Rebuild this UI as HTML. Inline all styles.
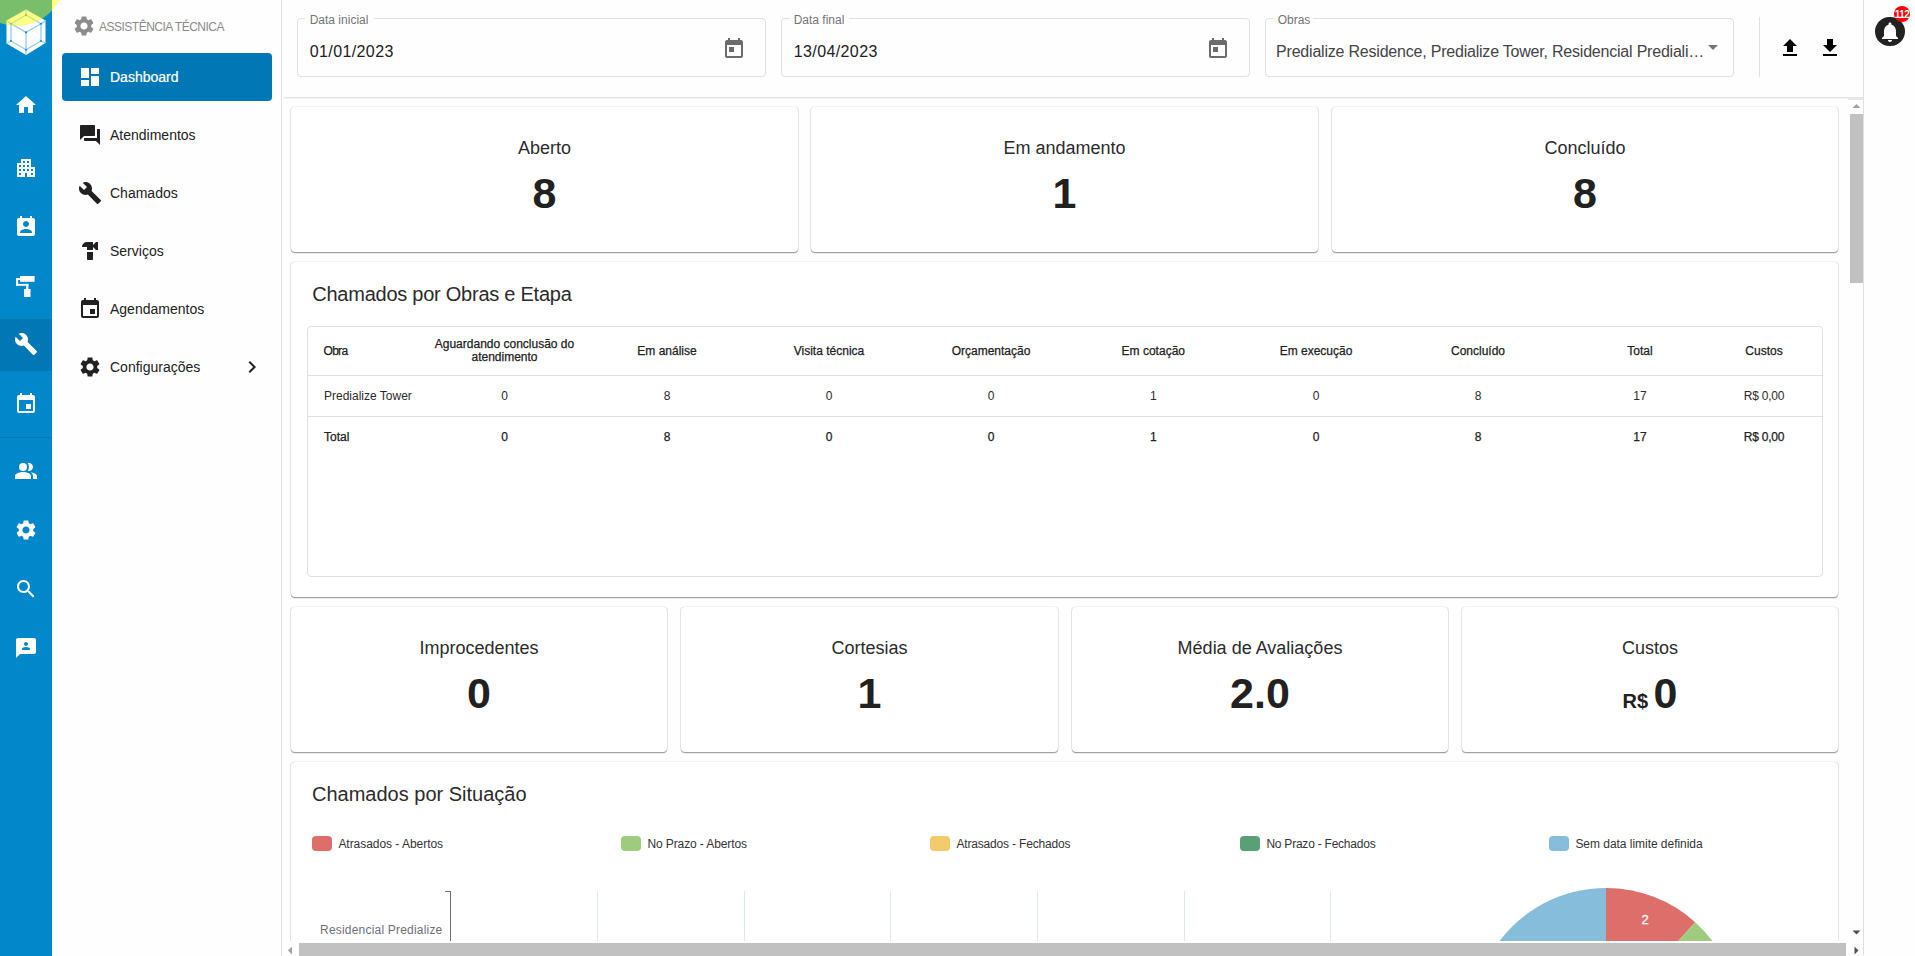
<!DOCTYPE html>
<html><head><meta charset="utf-8"><style>
*{box-sizing:border-box;margin:0;padding:0}
html,body{width:1915px;height:956px;overflow:hidden;background:#fefefe;font-family:"Liberation Sans",sans-serif;color:#212121}
.abs{position:absolute}
svg{display:block}
#rail{position:absolute;left:0;top:0;width:52px;height:956px;background:#0287ca}
#rail .ic{position:absolute;left:14px;width:24px;height:24px}
#rail .ic path,#rail .ic rect,#rail .ic circle{fill:#fff}
.fld{position:absolute;top:18px;height:59px;border:1px solid #e0e0e0;border-radius:4px}
.gap{position:absolute;top:17px;height:3px;background:#fefefe}
.card{position:absolute;background:#fff;border-radius:4px;box-shadow:0 1px 0 0 rgba(0,0,0,0.32),0 2px 0 0 rgba(0,0,0,0.07),1px 0 0 0 rgba(0,0,0,0.1),-1px 0 0 0 rgba(0,0,0,0.1),0 -1px 0 0 rgba(0,0,0,0.045)}
.ln{position:absolute;background:#e0e0e0}
</style></head><body>
<div id="rail">
  <svg class="abs" style="left:0;top:0" width="52" height="60" viewBox="0 0 52 60">
    <polygon points="26,9.5 45.5,20.5 45.5,43 26,55 6.5,43.5 6.5,20.5" fill="#fff"/>
    <g stroke="#93c9ee" stroke-width="1.3" fill="none">
      <polygon points="26,15 41,23.8 41,41 26,49.8 11,41 11,23.8"/>
      <polyline points="11,23.8 26,32.3 41,23.8"/>
      <line x1="26" y1="32.3" x2="26" y2="55"/>
      <line x1="26" y1="9.5" x2="26" y2="15"/>
      <line x1="6.5" y1="20.5" x2="11" y2="23.8"/>
      <line x1="45.5" y1="20.5" x2="41" y2="23.8"/>
      <line x1="6.5" y1="43.5" x2="11" y2="41"/>
      <line x1="45.5" y1="43" x2="41" y2="41"/>
    </g>
    <g fill="#1b84cf">
      <circle cx="26" cy="32.3" r="1.1"/><circle cx="11" cy="23.8" r="1"/><circle cx="41" cy="23.8" r="1"/>
      <circle cx="11" cy="41" r="1"/><circle cx="41" cy="41" r="1"/><circle cx="26" cy="49.8" r="1"/><circle cx="26" cy="15" r="1"/>
    </g>
  </svg>
  <svg class="ic" style="top:93px" viewBox="0 0 24 24"><path d="M10 20v-6h4v6h5v-8h3L12 3 2 12h3v8z"/></svg>
  <svg class="ic" style="top:156px" viewBox="0 0 24 24"><path d="M17 11V3H7v4H3v14h8v-4h2v4h8V11h-4zM7 19H5v-2h2v2zm0-4H5v-2h2v2zm0-4H5V9h2v2zm4 4H9v-2h2v2zm0-4H9V9h2v2zm0-4H9V5h2v2zm4 8h-2v-2h2v2zm0-4h-2V9h2v2zm0-4h-2V5h2v2zm4 12h-2v-2h2v2zm0-4h-2v-2h2v2z"/></svg>
  <svg class="ic" style="top:215px" viewBox="0 0 24 24"><path d="M19 3h-1V1h-2v2H8V1H6v2H5c-1.11 0-2 .9-2 2v14c0 1.1.89 2 2 2h14c1.1 0 2-.9 2-2V5c0-1.1-.9-2-2-2zm-7 3c1.66 0 3 1.34 3 3s-1.34 3-3 3-3-1.34-3-3 1.34-3 3-3zm6 12H6v-1c0-2 4-3.1 6-3.1s6 1.1 6 3.1v1z"/></svg>
  <svg class="abs" style="left:0;top:272px" width="52" height="28" viewBox="0 272 52 28"><g fill="#fff">
    <rect x="20" y="276" width="14.6" height="5.8"/><rect x="16" y="278" width="4" height="2"/><rect x="16" y="278" width="2.1" height="7.9"/>
    <rect x="16" y="283.9" width="12.4" height="1.9"/><rect x="26" y="283.9" width="2.4" height="5.5"/><rect x="24" y="289" width="6.5" height="8"/></g></svg>
  <div class="abs" style="left:0;top:319px;width:52px;height:52px;background:#0177b6"></div>
  <svg class="ic" style="top:332px" viewBox="0 0 24 24"><path d="M22.7 19l-9.1-9.1c.9-2.3.4-5-1.5-6.9-2-2-5-2.4-7.4-1.3L9 6 6 9 1.6 4.7C.4 7.1.9 10.1 2.9 12.1c1.9 1.9 4.6 2.4 6.9 1.5l9.1 9.1c.4.4 1 .4 1.4 0l2.3-2.3c.5-.4.5-1.1.1-1.4z"/></svg>
  <svg class="ic" style="top:392px" viewBox="0 0 24 24"><path d="M17 12h-5v5h5v-5zM16 1v2H8V1H6v2H5c-1.11 0-1.99.9-1.99 2L3 19c0 1.1.89 2 2 2h14c1.1 0 2-.9 2-2V5c0-1.1-.9-2-2-2h-1V1h-2zm3 18H5V8h14v11z"/></svg>
  <div class="abs" style="left:0;top:437px;width:52px;height:1px;background:#0876b0"></div>
  <svg class="ic" style="top:459px" viewBox="0 0 24 24"><path d="M16.67 13.13C18.04 14.06 19 15.32 19 17v3h4v-3c0-2.18-3.57-3.47-6.33-3.87z"/><circle cx="9" cy="8" r="4"/><path d="M15 12c2.21 0 4-1.79 4-4s-1.79-4-4-4c-.47 0-.91.1-1.33.24C14.5 5.27 15 6.58 15 8s-.5 2.73-1.33 3.76c.42.14.86.24 1.33.24z"/><path d="M9 13c-2.67 0-8 1.340-8 4v3h16v-3c0-2.66-5.330-4-8-4z"/></svg>
  <svg class="ic" style="top:518px" viewBox="0 0 24 24"><path d="M19.14 12.94c.04-.3.06-.61.06-.94 0-.32-.02-.64-.07-.94l2.03-1.58c.18-.14.23-.41.12-.61l-1.92-3.32c-.12-.22-.37-.29-.59-.22l-2.39.96c-.5-.38-1.03-.7-1.620-.94l-.36-2.54c-.04-.24-.24-.41-.48-.41h-3.84c-.24 0-.43.17-.47.41l-.36 2.54c-.59.24-1.13.57-1.62.94l-2.39-.96c-.22-.08-.47 0-.59.22L2.74 8.87c-.12.21-.08.47.12.61l2.03 1.58c-.05.3-.09.63-.09.94s.02.64.07.94l-2.03 1.58c-.18.14-.23.41-.12.61l1.92 3.32c.12.22.37.29.59.22l2.39-.96c.5.38 1.03.7 1.62.94l.36 2.54c.05.24.24.41.48.41h3.84c.24 0 .44-.17.47-.41l.36-2.54c.59-.24 1.13-.56 1.62-.94l2.39.96c.22.08.47 0 .59-.22l1.92-3.32c.12-.22.07-.47-.12-.61l-2.01-1.58zM12 15.6c-1.98 0-3.6-1.62-3.6-3.6s1.62-3.6 3.6-3.6 3.6 1.62 3.6 3.6-1.62 3.6-3.6 3.6z"/></svg>
  <svg class="ic" style="top:577px" viewBox="0 0 24 24"><path d="M15.5 14h-.79l-.28-.27C15.41 12.59 16 11.11 16 9.5 16 5.91 13.09 3 9.5 3S3 5.91 3 9.5 5.91 16 9.5 16c1.61 0 3.09-.59 4.23-1.57l.27.28v.79l5 4.99L20.49 19l-4.99-5zm-6 0C7.01 14 5 11.990 5 9.5S7.01 5 9.5 5 14 7.01 14 9.5 11.99 14 9.5 14z"/></svg>
  <svg class="ic" style="top:636px" viewBox="0 0 24 24"><path d="M20 2H4c-1.1 0-1.99.9-1.99 2L2 22l4-4h14c1.1 0 2-.9 2-2V4c0-1.1-.9-2-2-2zm-8 4c1.1 0 2 .9 2 2s-.9 2-2 2-2-.9-2-2 .9-2 2-2zm4 8H8v-.57c0-.81.48-1.53 1.22-1.85.85-.37 1.79-.58 2.78-.58.99 0 1.93.21 2.78.58.74.32 1.22 1.04 1.22 1.85V14z"/></svg>
</div>


<div class="abs" style="left:52px;top:0;width:230px;height:956px;background:#fefefe;border-right:1px solid #e2e2e2"></div>
<svg class="abs" style="left:72px;top:14px" width="24" height="24" viewBox="0 0 24 24"><path fill="#8c8c8c" d="M19.14 12.94c.04-.3.06-.61.06-.94 0-.32-.02-.64-.07-.94l2.03-1.58c.18-.14.23-.41.12-.61l-1.92-3.32c-.12-.22-.37-.29-.59-.22l-2.39.96c-.5-.38-1.03-.7-1.62-.94l-.36-2.54c-.04-.24-.24-.41-.48-.41h-3.84c-.24 0-.43.17-.47.41l-.36 2.54c-.59.24-1.13.57-1.62.94l-2.39-.96c-.22-.08-.47 0-.59.22L2.74 8.87c-.12.21-.08.47.12.61l2.03 1.58c-.05.3-.09.63-.09.94s.02.64.07.94l-2.03 1.58c-.18.14-.23.41-.12.61l1.92 3.32c.12.22.37.29.59.22l2.39-.96c.5.38 1.030.7 1.62.94l.36 2.54c.05.24.24.41.48.41h3.84c.24 0 .44-.17.47-.41l.36-2.54c.59-.24 1.13-.56 1.62-.94l2.39.96c.22.08.47 0 .59-.22l1.92-3.32c.12-.22.07-.47-.12-.61l-2.01-1.58zM12 15.6c-1.98 0-3.6-1.62-3.6-3.6s1.62-3.6 3.6-3.6 3.6 1.62 3.6 3.6-1.62 3.6-3.6 3.6z"/></svg>
<div style="position:absolute;top:19.64px;font-size:12px;line-height:15px;color:#8a8a8a;white-space:nowrap;left:99.00px;letter-spacing:-0.5px;">ASSISTÊNCIA TÉCNICA</div>
<div class="abs" style="left:62px;top:53px;width:210px;height:48px;background:#0177b6;border-radius:4px"></div>
<svg class="abs" style="left:78px;top:65px" width="24" height="24" viewBox="0 0 24 24"><path fill="#fff" d="M3 13h8V3H3v10zm0 8h8v-6H3v6zm10 0h8V11h-8v10zm0-18v6h8V3h-8z"/></svg>
<div style="position:absolute;top:67.85px;font-size:14px;line-height:18px;color:#fff;white-space:nowrap;left:110.00px;-webkit-text-stroke:0.2px #fff;">Dashboard</div>
<svg class="abs" style="left:78px;top:123px" width="24" height="24" viewBox="0 0 24 24"><path fill="#212121" d="M21 6h-2v9H6v2c0 .55.45 1 1 1h11l4 4V7c0-.55-.45-1-1-1zm-4 6V3c0-.55-.45-1-1-1H3c-.55 0-1 .45-1 1v14l4-4h10c.55 0 1-.45 1-1z"/></svg>
<div style="position:absolute;top:126.05px;font-size:14px;line-height:18px;color:#212121;white-space:nowrap;left:110.00px;">Atendimentos</div>
<svg class="abs" style="left:78px;top:181px" width="24" height="24" viewBox="0 0 24 24"><path fill="#212121" d="M22.7 19l-9.1-9.1c.9-2.3.4-5-1.5-6.9-2-2-5-2.4-7.4-1.3L9 6 6 9 1.6 4.7C.4 7.1.9 10.1 2.9 12.1c1.9 1.9 4.6 2.4 6.9 1.5l9.1 9.1c.4.4 1 .4 1.4 0l2.3-2.3c.5-.4.5-1.1.1-1.4z"/></svg>
<div style="position:absolute;top:184.05px;font-size:14px;line-height:18px;color:#212121;white-space:nowrap;left:110.00px;">Chamados</div>
<svg class="abs" style="left:78px;top:239px" width="24" height="24" viewBox="0 0 24 24"><path fill="#212121" d="M18 3l-3 3V3H9C6.24 3 4 5.24 4 8h5v3h6V8l3 3h2V3h-2zM9 13v7c0 .55.45 1 1 1h4c.55 0 1-.45 1-1v-7H9z"/></svg>
<div style="position:absolute;top:242.05px;font-size:14px;line-height:18px;color:#212121;white-space:nowrap;left:110.00px;">Serviços</div>
<svg class="abs" style="left:78px;top:297px" width="24" height="24" viewBox="0 0 24 24"><path fill="#212121" d="M17 12h-5v5h5v-5zM16 1v2H8V1H6v2H5c-1.11 0-1.99.9-1.99 2L3 19c0 1.1.89 2 2 2h14c1.1 0 2-.9 2-2V5c0-1.1-.9-2-2-2h-1V1h-2zm3 18H5V8h14v11z"/></svg>
<div style="position:absolute;top:300.05px;font-size:14px;line-height:18px;color:#212121;white-space:nowrap;left:110.00px;">Agendamentos</div>
<svg class="abs" style="left:78px;top:355px" width="24" height="24" viewBox="0 0 24 24"><path fill="#212121" d="M19.14 12.94c.04-.3.06-.61.06-.94 0-.32-.02-.64-.07-.94l2.03-1.58c.18-.14.23-.41.12-.61l-1.92-3.32c-.12-.22-.37-.29-.59-.22l-2.39.96c-.5-.38-1.03-.7-1.62-.94l-.36-2.54c-.04-.24-.24-.41-.48-.41h-3.84c-.24 0-.43.17-.47.41l-.36 2.54c-.59.24-1.13.57-1.62.94l-2.39-.96c-.22-.08-.47 0-.59.22L2.74 8.87c-.12.21-.08.47.12.61l2.03 1.58c-.05.3-.09.63-.09.94s.02.64.07.94l-2.03 1.58c-.18.14-.23.41-.12.61l1.92 3.32c.12.22.37.29.59.22l2.39-.96c.5.38 1.030.7 1.62.94l.36 2.54c.05.24.24.41.48.41h3.84c.24 0 .44-.17.47-.41l.36-2.54c.59-.24 1.13-.56 1.62-.94l2.39.96c.22.08.47 0 .59-.22l1.92-3.32c.12-.22.07-.47-.12-.61l-2.01-1.58zM12 15.6c-1.98 0-3.6-1.62-3.6-3.6s1.62-3.6 3.6-3.6 3.6 1.62 3.6 3.6-1.62 3.6-3.6 3.6z"/></svg>
<div style="position:absolute;top:358.05px;font-size:14px;line-height:18px;color:#212121;white-space:nowrap;left:110.00px;">Configurações</div>
<svg class="abs" style="left:240px;top:355px" width="24" height="24" viewBox="0 0 24 24"><path fill="#212121" d="M10 6L8.59 7.41 13.17 12l-4.58 4.59L10 18l6-6z"/></svg>
<div class="fld" style="left:297px;width:469px"></div><div class="gap" style="left:305px;width:69px"></div><div style="position:absolute;top:13.14px;font-size:12px;line-height:15px;color:#747474;white-space:nowrap;left:309.70px;">Data inicial</div><div style="position:absolute;top:42.36px;font-size:16px;line-height:20px;color:#212121;white-space:nowrap;left:309.70px;letter-spacing:0.4px;">01/01/2023</div>
<div class="fld" style="left:781px;width:469px"></div><div class="gap" style="left:789px;width:60px"></div><div style="position:absolute;top:13.14px;font-size:12px;line-height:15px;color:#747474;white-space:nowrap;left:793.70px;">Data final</div><div style="position:absolute;top:42.36px;font-size:16px;line-height:20px;color:#212121;white-space:nowrap;left:793.70px;letter-spacing:0.4px;">13/04/2023</div>
<div class="fld" style="left:1265px;width:469px"></div><div class="gap" style="left:1273px;width:40px"></div><div style="position:absolute;top:13.14px;font-size:12px;line-height:15px;color:#747474;white-space:nowrap;left:1277.70px;">Obras</div><div style="position:absolute;top:42.36px;font-size:16px;line-height:20px;color:#444;white-space:nowrap;left:1276.10px;letter-spacing:-0.21px;">Predialize Residence, Predialize Tower, Residencial Prediali…</div>
<svg class="abs" style="left:722px;top:36.8px" width="24" height="24" viewBox="0 0 24 24"><path fill="#6b6b6b" d="M19 3h-1V1h-2v2H8V1H6v2H5c-1.11 0-1.99.9-1.99 2L3 19c0 1.1.89 2 2 2h14c1.1 0 2-.9 2-2V5c0-1.1-.9-2-2-2zm0 16H5V8h14v11zM7 10h5v5H7z"/></svg>
<svg class="abs" style="left:1206px;top:36.8px" width="24" height="24" viewBox="0 0 24 24"><path fill="#6b6b6b" d="M19 3h-1V1h-2v2H8V1H6v2H5c-1.11 0-1.99.9-1.99 2L3 19c0 1.1.89 2 2 2h14c1.1 0 2-.9 2-2V5c0-1.1-.9-2-2-2zm0 16H5V8h14v11zM7 10h5v5H7z"/></svg>
<svg class="abs" style="left:1701px;top:35px" width="24" height="24" viewBox="0 0 24 24"><path fill="#757575" d="M7 10l5 5 5-5z"/></svg>
<div class="ln" style="left:1759px;top:17px;width:1px;height:60px;background:#e0e0e0"></div>
<svg class="abs" style="left:1778px;top:36.3px" width="24" height="24" viewBox="0 0 24 24"><path fill="#000" d="M9 16h6v-6h4l-7-7-7 7h4zm-4 2h14v2H5z"/></svg>
<svg class="abs" style="left:1818px;top:36.3px" width="24" height="24" viewBox="0 0 24 24"><path fill="#000" d="M19 9h-4V3H9v6H5l7 7 7-7zM5 18v2h14v-2H5z"/></svg>
<div class="ln" style="left:284px;top:97px;width:1579px;height:1px;background:#e1e3e4"></div><div class="ln" style="left:284px;top:98px;width:1566px;height:1px;background:#f1f3f4"></div>
<div class="ln" style="left:1863px;top:0;width:1px;height:956px;background:#e0e0e0"></div>
<div class="abs" style="left:1875.4px;top:17.2px;width:29.2px;height:29.2px;border-radius:50%;background:#222"></div>
<svg class="abs" style="left:1878px;top:19.6px" width="24" height="24" viewBox="0 0 24 24"><path fill="#fff" d="M12 22c1.1 0 2-.9 2-2h-4c0 1.1.89 2 2 2zm6-6v-5c0-3.07-1.64-5.64-4.5-6.32V4c0-.83-.67-1.5-1.5-1.5s-1.5.67-1.5 1.5v.68C7.63 5.36 6 7.92 6 11v5l-2 2v1h16v-1l-2-2z"/></svg>
<div class="abs" style="left:1894px;top:5.8px;width:16px;height:16px;border-radius:50%;background:#f00"></div>
<div style="position:absolute;top:8.54px;font-size:10px;line-height:12px;color:#fff;white-space:nowrap;font-weight:bold;left:1887.00px;width:30px;text-align:center;letter-spacing:-0.6px;">112</div>
<div class="abs" style="left:282px;top:98px;width:1568px;height:843px;overflow:hidden"><div class="abs" style="left:-282px;top:-98px;width:1915px;height:1200px"><div class="card" style="left:291px;top:107px;width:507px;height:145px"></div><div style="position:absolute;top:136.66px;font-size:18px;line-height:22px;color:#2b2b2b;white-space:nowrap;left:291.00px;width:507px;text-align:center;">Aberto</div><div style="position:absolute;top:165.80px;font-size:43px;line-height:54px;color:#212121;white-space:nowrap;font-weight:bold;left:291.00px;width:507px;text-align:center;">8</div><div class="card" style="left:811px;top:107px;width:507px;height:145px"></div><div style="position:absolute;top:136.66px;font-size:18px;line-height:22px;color:#2b2b2b;white-space:nowrap;left:811.00px;width:507px;text-align:center;">Em andamento</div><div style="position:absolute;top:165.80px;font-size:43px;line-height:54px;color:#212121;white-space:nowrap;font-weight:bold;left:811.00px;width:507px;text-align:center;">1</div><div class="card" style="left:1332px;top:107px;width:506px;height:145px"></div><div style="position:absolute;top:136.66px;font-size:18px;line-height:22px;color:#2b2b2b;white-space:nowrap;left:1332.00px;width:506px;text-align:center;">Concluído</div><div style="position:absolute;top:165.80px;font-size:43px;line-height:54px;color:#212121;white-space:nowrap;font-weight:bold;left:1332.00px;width:506px;text-align:center;">8</div><div class="card" style="left:291px;top:262px;width:1547px;height:335px"></div><div style="position:absolute;top:282.17px;font-size:20px;line-height:25px;color:#2b2b2b;white-space:nowrap;left:312.30px;letter-spacing:-0.25px;">Chamados por Obras e Etapa</div><div class="abs" style="left:307px;top:326px;width:1516px;height:251px;border:1px solid #e0e0e0;border-radius:4px"></div><div class="ln" style="left:308px;top:375px;width:1514px;height:1px"></div><div class="ln" style="left:308px;top:416px;width:1514px;height:1px"></div><div style="position:absolute;top:343.64px;font-size:12px;line-height:15px;color:#212121;white-space:nowrap;left:323.50px;font-weight:normal;-webkit-text-stroke:0.25px #212121;letter-spacing:-0.7px;">Obra</div><div style="position:absolute;top:336.74px;font-size:12px;line-height:15px;color:#212121;white-space:nowrap;left:404.50px;width:200px;text-align:center;font-weight:normal;-webkit-text-stroke:0.25px #212121;">Aguardando conclusão do</div><div style="position:absolute;top:350.44px;font-size:12px;line-height:15px;color:#212121;white-space:nowrap;left:404.50px;width:200px;text-align:center;font-weight:normal;-webkit-text-stroke:0.25px #212121;">atendimento</div><div style="position:absolute;top:343.64px;font-size:12px;line-height:15px;color:#212121;white-space:nowrap;left:587.00px;width:160px;text-align:center;font-weight:normal;-webkit-text-stroke:0.25px #212121;">Em análise</div><div style="position:absolute;top:343.64px;font-size:12px;line-height:15px;color:#212121;white-space:nowrap;left:749.00px;width:160px;text-align:center;font-weight:normal;-webkit-text-stroke:0.25px #212121;">Visita técnica</div><div style="position:absolute;top:343.64px;font-size:12px;line-height:15px;color:#212121;white-space:nowrap;left:911.00px;width:160px;text-align:center;font-weight:normal;-webkit-text-stroke:0.25px #212121;">Orçamentação</div><div style="position:absolute;top:343.64px;font-size:12px;line-height:15px;color:#212121;white-space:nowrap;left:1073.30px;width:160px;text-align:center;font-weight:normal;-webkit-text-stroke:0.25px #212121;">Em cotação</div><div style="position:absolute;top:343.64px;font-size:12px;line-height:15px;color:#212121;white-space:nowrap;left:1236.00px;width:160px;text-align:center;font-weight:normal;-webkit-text-stroke:0.25px #212121;">Em execução</div><div style="position:absolute;top:343.64px;font-size:12px;line-height:15px;color:#212121;white-space:nowrap;left:1398.00px;width:160px;text-align:center;font-weight:normal;-webkit-text-stroke:0.25px #212121;">Concluído</div><div style="position:absolute;top:343.64px;font-size:12px;line-height:15px;color:#212121;white-space:nowrap;left:1560.00px;width:160px;text-align:center;font-weight:normal;-webkit-text-stroke:0.25px #212121;">Total</div><div style="position:absolute;top:343.64px;font-size:12px;line-height:15px;color:#212121;white-space:nowrap;left:1684.00px;width:160px;text-align:center;font-weight:normal;-webkit-text-stroke:0.25px #212121;">Custos</div><div style="position:absolute;top:389.34px;font-size:12px;line-height:15px;color:#2b2b2b;white-space:nowrap;left:324.00px;">Predialize Tower</div><div style="position:absolute;top:430.04px;font-size:12px;line-height:15px;color:#212121;white-space:nowrap;left:324.00px;font-weight:normal;-webkit-text-stroke:0.25px #212121;">Total</div><div style="position:absolute;top:389.34px;font-size:12px;line-height:15px;color:#2b2b2b;white-space:nowrap;left:444.50px;width:120px;text-align:center;">0</div><div style="position:absolute;top:389.34px;font-size:12px;line-height:15px;color:#2b2b2b;white-space:nowrap;left:607.00px;width:120px;text-align:center;">8</div><div style="position:absolute;top:389.34px;font-size:12px;line-height:15px;color:#2b2b2b;white-space:nowrap;left:769.00px;width:120px;text-align:center;">0</div><div style="position:absolute;top:389.34px;font-size:12px;line-height:15px;color:#2b2b2b;white-space:nowrap;left:931.00px;width:120px;text-align:center;">0</div><div style="position:absolute;top:389.34px;font-size:12px;line-height:15px;color:#2b2b2b;white-space:nowrap;left:1093.30px;width:120px;text-align:center;">1</div><div style="position:absolute;top:389.34px;font-size:12px;line-height:15px;color:#2b2b2b;white-space:nowrap;left:1256.00px;width:120px;text-align:center;">0</div><div style="position:absolute;top:389.34px;font-size:12px;line-height:15px;color:#2b2b2b;white-space:nowrap;left:1418.00px;width:120px;text-align:center;">8</div><div style="position:absolute;top:389.34px;font-size:12px;line-height:15px;color:#2b2b2b;white-space:nowrap;left:1580.00px;width:120px;text-align:center;">17</div><div style="position:absolute;top:389.34px;font-size:12px;line-height:15px;color:#2b2b2b;white-space:nowrap;left:1704.00px;width:120px;text-align:center;letter-spacing:-0.2px;">R$ 0,00</div><div style="position:absolute;top:430.04px;font-size:12px;line-height:15px;color:#212121;white-space:nowrap;left:444.50px;width:120px;text-align:center;font-weight:normal;-webkit-text-stroke:0.25px #212121;">0</div><div style="position:absolute;top:430.04px;font-size:12px;line-height:15px;color:#212121;white-space:nowrap;left:607.00px;width:120px;text-align:center;font-weight:normal;-webkit-text-stroke:0.25px #212121;">8</div><div style="position:absolute;top:430.04px;font-size:12px;line-height:15px;color:#212121;white-space:nowrap;left:769.00px;width:120px;text-align:center;font-weight:normal;-webkit-text-stroke:0.25px #212121;">0</div><div style="position:absolute;top:430.04px;font-size:12px;line-height:15px;color:#212121;white-space:nowrap;left:931.00px;width:120px;text-align:center;font-weight:normal;-webkit-text-stroke:0.25px #212121;">0</div><div style="position:absolute;top:430.04px;font-size:12px;line-height:15px;color:#212121;white-space:nowrap;left:1093.30px;width:120px;text-align:center;font-weight:normal;-webkit-text-stroke:0.25px #212121;">1</div><div style="position:absolute;top:430.04px;font-size:12px;line-height:15px;color:#212121;white-space:nowrap;left:1256.00px;width:120px;text-align:center;font-weight:normal;-webkit-text-stroke:0.25px #212121;">0</div><div style="position:absolute;top:430.04px;font-size:12px;line-height:15px;color:#212121;white-space:nowrap;left:1418.00px;width:120px;text-align:center;font-weight:normal;-webkit-text-stroke:0.25px #212121;">8</div><div style="position:absolute;top:430.04px;font-size:12px;line-height:15px;color:#212121;white-space:nowrap;left:1580.00px;width:120px;text-align:center;font-weight:normal;-webkit-text-stroke:0.25px #212121;">17</div><div style="position:absolute;top:430.04px;font-size:12px;line-height:15px;color:#212121;white-space:nowrap;left:1704.00px;width:120px;text-align:center;font-weight:normal;-webkit-text-stroke:0.25px #212121;letter-spacing:-0.2px;">R$ 0,00</div><div class="card" style="left:291px;top:607px;width:376px;height:145px"></div><div style="position:absolute;top:636.66px;font-size:18px;line-height:22px;color:#2b2b2b;white-space:nowrap;left:291.00px;width:376px;text-align:center;">Improcedentes</div><div style="position:absolute;top:665.80px;font-size:43px;line-height:54px;color:#212121;white-space:nowrap;font-weight:bold;left:291.00px;width:376px;text-align:center;">0</div><div class="card" style="left:681px;top:607px;width:377px;height:145px"></div><div style="position:absolute;top:636.66px;font-size:18px;line-height:22px;color:#2b2b2b;white-space:nowrap;left:681.00px;width:377px;text-align:center;">Cortesias</div><div style="position:absolute;top:665.80px;font-size:43px;line-height:54px;color:#212121;white-space:nowrap;font-weight:bold;left:681.00px;width:377px;text-align:center;">1</div><div class="card" style="left:1072px;top:607px;width:376px;height:145px"></div><div style="position:absolute;top:636.66px;font-size:18px;line-height:22px;color:#2b2b2b;white-space:nowrap;left:1072.00px;width:376px;text-align:center;">Média de Avaliações</div><div style="position:absolute;top:665.80px;font-size:43px;line-height:54px;color:#212121;white-space:nowrap;font-weight:bold;left:1072.00px;width:376px;text-align:center;">2.0</div><div class="card" style="left:1462px;top:607px;width:376px;height:145px"></div><div style="position:absolute;top:636.66px;font-size:18px;line-height:22px;color:#2b2b2b;white-space:nowrap;left:1462.00px;width:376px;text-align:center;">Custos</div><div style="position:absolute;top:665.80px;font-size:43px;line-height:54px;color:#212121;white-space:nowrap;font-weight:bold;left:1462.00px;width:376px;text-align:center;"><span style="font-size:20px">R$ </span>0</div><div class="card" style="left:291px;top:762px;width:1547px;height:300px"></div><div style="position:absolute;top:781.57px;font-size:20px;line-height:25px;color:#2b2b2b;white-space:nowrap;left:312.00px;">Chamados por Situação</div><div class="abs" style="left:312px;top:836px;width:20px;height:14.6px;border-radius:4px;background:#de6e6a"></div><div style="position:absolute;top:836.74px;font-size:12px;line-height:15px;color:#333;white-space:nowrap;left:338.40px;letter-spacing:-0.04px;">Atrasados - Abertos</div><div class="abs" style="left:621px;top:836px;width:20px;height:14.6px;border-radius:4px;background:#9fcb7f"></div><div style="position:absolute;top:836.74px;font-size:12px;line-height:15px;color:#333;white-space:nowrap;left:647.40px;letter-spacing:-0.1px;">No Prazo - Abertos</div><div class="abs" style="left:930px;top:836px;width:20px;height:14.6px;border-radius:4px;background:#f3ca6c"></div><div style="position:absolute;top:836.74px;font-size:12px;line-height:15px;color:#333;white-space:nowrap;left:956.40px;letter-spacing:-0.17px;">Atrasados - Fechados</div><div class="abs" style="left:1240px;top:836px;width:20px;height:14.6px;border-radius:4px;background:#5aa076"></div><div style="position:absolute;top:836.74px;font-size:12px;line-height:15px;color:#333;white-space:nowrap;left:1266.40px;letter-spacing:-0.23px;">No Prazo - Fechados</div><div class="abs" style="left:1549px;top:836px;width:20px;height:14.6px;border-radius:4px;background:#85bddb"></div><div style="position:absolute;top:836.74px;font-size:12px;line-height:15px;color:#333;white-space:nowrap;left:1575.40px;letter-spacing:-0.035px;">Sem data limite definida</div><div style="position:absolute;top:923.34px;font-size:12px;line-height:15px;color:#6e7079;white-space:nowrap;left:242.50px;width:200px;text-align:right;letter-spacing:0.2px;">Residencial Predialize</div><div class="abs" style="left:449.5px;top:891px;width:1px;height:60px;background:#6e7079"></div><div class="abs" style="left:445px;top:890.5px;width:5px;height:1px;background:#6e7079"></div><div class="abs" style="left:596.9px;top:891px;width:1px;height:60px;background:#e0e6f1"></div><div class="abs" style="left:743.8px;top:891px;width:1px;height:60px;background:#e0e6f1"></div><div class="abs" style="left:889.6px;top:891px;width:1px;height:60px;background:#e0e6f1"></div><div class="abs" style="left:1036.5px;top:891px;width:1px;height:60px;background:#e0e6f1"></div><div class="abs" style="left:1183.9px;top:891px;width:1px;height:60px;background:#e0e6f1"></div><div class="abs" style="left:1329.7px;top:891px;width:1px;height:60px;background:#e0e6f1"></div><svg class="abs" style="left:0;top:0" width="1915" height="1200" viewBox="0 0 1915 1200"><path d="M1606,1021.3 L1606.00,888.00 A133.3,133.3 0 0 1 1695.20,922.24 Z" fill="#de6e6a"/><path d="M1606,1021.3 L1695.20,922.24 A133.3,133.3 0 0 1 1731.26,975.71 Z" fill="#9fcb7f"/><path d="M1606,1021.3 L1731.26,975.71 A133.3,133.3 0 0 1 1480.74,1066.89 Z" fill="#5aa076"/><path d="M1606,1021.3 L1480.74,1066.89 A133.3,133.3 0 0 1 1606.00,888.00 Z" fill="#85bddb"/></svg><div style="position:absolute;top:911.70px;font-size:13px;line-height:16px;color:#fff;white-space:nowrap;left:1635.00px;width:20px;text-align:center;-webkit-text-stroke:0.3px #fff;">2</div></div></div>
<div class="abs" style="left:1850px;top:114px;width:13px;height:169px;background:#c1c1c1"></div>
<div class="abs" style="left:1848px;top:98px;width:15px;height:2px;background:#e6e8e9"></div>
<svg class="abs" style="left:1852px;top:103px" width="9" height="6"><path d="M0.5 5 L4.5 1 L8.5 5 Z" fill="#a3a3a3"/></svg>
<svg class="abs" style="left:1852px;top:929.5px" width="9" height="6"><path d="M0.5 0.5 L4.5 4.5 L8.5 0.5 Z" fill="#505050"/></svg>
<div class="abs" style="left:299px;top:943px;width:1547px;height:13px;background:#c1c1c1"></div>
<svg class="abs" style="left:287px;top:945.5px" width="6" height="9"><path d="M5 0.5 L1 4.5 L5 8.5 Z" fill="#a3a3a3"/></svg>
<svg class="abs" style="left:1853.5px;top:945.5px" width="6" height="9"><path d="M0.5 0.5 L4.5 4.5 L0.5 8.5 Z" fill="#505050"/></svg>
<div class="abs" style="left:-32.2px;top:-71.7px;width:97.2px;height:97.2px;border-radius:50%;background:rgba(255,255,0,0.47)"></div>
</body></html>
